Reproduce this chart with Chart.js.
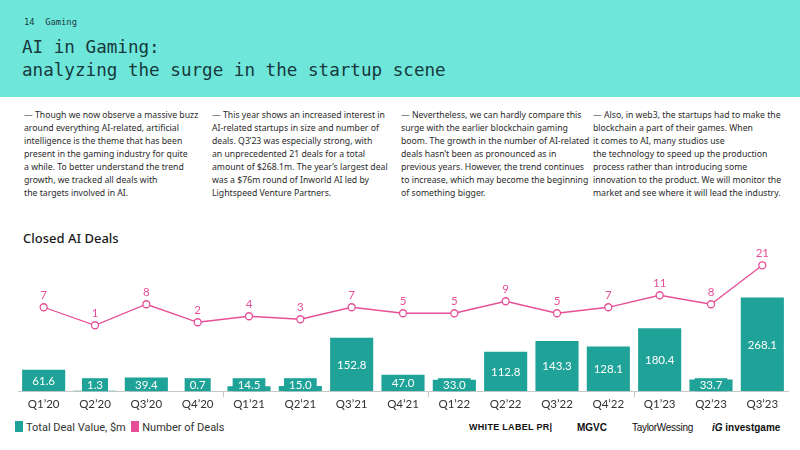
<!DOCTYPE html>
<html>
<head>
<meta charset="utf-8">
<script src="https://cdn.jsdelivr.net/npm/chart.js@4"></script>
<style>
  body { margin: 0; width: 800px; height: 450px; background: #fff; position: relative; overflow: hidden; font-family: "Noto Sans", sans-serif; }
  .header { position: absolute; left: 0; top: 0; width: 800px; height: 97px; background: #6ee6da; }
  .page { position: absolute; left: 24px; top: 17px; font: 8.8px "DejaVu Sans Mono", monospace; color: #1b3a3c; }
  .title { position: absolute; left: 22px; top: 36px; font: 17.6px/23px "DejaVu Sans Mono", monospace; color: #17393b; }
  .col { position: absolute; top: 109px; width: 185px; font: 8.7px/12.95px "Noto Sans", sans-serif; color: #2b2b2b; white-space: nowrap; }
  .chart-title { position: absolute; left: 23px; top: 229px; font: 500 13px "Noto Sans", sans-serif; color: #1a1a1a; }
  .chart-wrap { position: absolute; left: 0; top: 245px; width: 800px; height: 175px; }
  .legend { position: absolute; left: 15px; top: 421px; font: 11px "Liberation Sans Narrow", "Roboto", sans-serif; color: #333; }
  .legend span.box { display: inline-block; width: 8px; height: 11px; vertical-align: -1px; margin-right: 3px; }
  .logos { position: absolute; top: 422px; font-family: "Liberation Sans", sans-serif; color: #111; }
</style>
</head>
<body>
<div class="header"></div>
<div class="page">14&nbsp;&nbsp;Gaming</div>
<div class="title">AI in Gaming:<br>analyzing the surge in the startup scene</div>

<div class="col" style="left:24px">— Though we now observe a massive buzz<br>around everything AI-related, artificial<br>intelligence is the theme that has been<br>present in the gaming industry for quite<br>a while. To better understand the trend<br>growth, we tracked all deals with<br>the targets involved in AI.</div>
<div class="col" style="left:212px">— This year shows an increased interest in<br>AI-related startups in size and number of<br>deals. Q3’23 was especially strong, with<br>an unprecedented 21 deals for a total<br>amount of $268.1m. The year’s largest deal<br>was a $76m round of Inworld AI led by<br>Lightspeed Venture Partners.</div>
<div class="col" style="left:401px">— Nevertheless, we can hardly compare this<br>surge with the earlier blockchain gaming<br>boom. The growth in the number of AI-related<br>deals hasn’t been as pronounced as in<br>previous years. However, the trend continues<br>to increase, which may become the beginning<br>of something bigger.</div>
<div class="col" style="left:593px">— Also, in web3, the startups had to make the<br>blockchain a part of their games. When<br>it comes to AI, many studios use<br>the technology to speed up the production<br>process rather than introducing some<br>innovation to the product. We will monitor the<br>market and see where it will lead the industry.</div>

<div class="chart-title">Closed AI Deals</div>
<div class="chart-wrap"><canvas id="dealsChart"></canvas></div>

<div class="legend"><span class="box" style="background:#1fa398"></span>Total Deal Value, $m&nbsp;&nbsp;<span class="box" style="background:#e64f98"></span>Number of Deals</div>
<div class="logos" style="left:469px; font-size:9px; font-weight:bold; letter-spacing:0.3px;">WHITE LABEL PR|</div>
<div class="logos" style="left:577px; font-size:10px; font-weight:bold;">MGVC</div>
<div class="logos" style="left:632px; font-size:10px; letter-spacing:-0.3px;">TaylorWessing</div>
<div class="logos" style="left:712px; font-size:10px; font-weight:bold;"><i>iG</i> investgame</div>

<script>
const quarters = ["Q1’20", "Q2’20", "Q3’20", "Q4’20", "Q1’21", "Q2’21", "Q3’21", "Q4’21",
                  "Q1’22", "Q2’22", "Q3’22", "Q4’22", "Q1’23", "Q2’23", "Q3’23"];
const dealValues = [61.6, 1.3, 39.4, 0.7, 14.5, 15.0, 152.8, 47.0, 33.0, 112.8, 143.3, 128.1, 180.4, 33.7, 268.1];
const dealCounts = [7, 1, 8, 2, 4, 3, 7, 5, 5, 9, 5, 7, 11, 8, 21];

const teal = '#1fa398';
const pink = '#e64f98';
const yearBreaks = [4, 8, 12];

// value labels: white text on bars (with a small box for short bars), pink above points
const valueLabels = {
    id: 'valueLabels',
    afterDatasetsDraw(chart) {
        const ctx = chart.ctx;
        ctx.save();
        ctx.textAlign = 'center';
        ctx.textBaseline = 'middle';
        ctx.font = '11.5px Lato, sans-serif';

        chart.getDatasetMeta(0).data.forEach((bar, i) => {
            const txt = dealValues[i].toFixed(1);
            const h = bar.base - bar.y;
            let ty = (bar.y + bar.base) / 2;
            if (h < 16) {
                const w = ctx.measureText(txt).width + 10;
                ctx.fillStyle = teal;
                ctx.fillRect(bar.x - w / 2, bar.base - 13, w, 13);
                ty = bar.base - 6.5;
            }
            ctx.fillStyle = '#fff';
            ctx.fillText(txt, bar.x, ty + 0.5);
        });

        ctx.fillStyle = pink;
        ctx.font = '11.5px Lato, sans-serif';
        chart.getDatasetMeta(1).data.forEach((pt, i) => {
            ctx.fillText(String(dealCounts[i]), pt.x, pt.y - 12);
        });
        ctx.restore();
    }
};

new Chart(document.getElementById('dealsChart'), {
    data: {
        labels: quarters,
        datasets: [{
            type: 'bar',
            label: 'Total Deal Value, $m',
            data: dealValues,
            backgroundColor: teal,
            yAxisID: 'y',
            categoryPercentage: 1,
            barPercentage: 0.84,
            order: 1
        }, {
            type: 'line',
            label: 'Number of Deals',
            data: dealCounts,
            borderColor: pink,
            borderWidth: 1.3,
            pointRadius: 3.5,
            pointBorderWidth: 1.3,
            pointBackgroundColor: '#fff',
            pointBorderColor: pink,
            yAxisID: 'y1',
            tension: 0,
            order: 0
        }]
    },
    options: {
        responsive: true,
        maintainAspectRatio: false,
        animation: false,
        layout: { padding: { top: 5, left: 18, right: 12, bottom: 9 } },
        plugins: {
            legend: { display: false },
            tooltip: { enabled: false }
        },
        scales: {
            x: {
                offset: true,
                border: { display: true, color: '#c8c8c8', width: 1 },
                grid: {
                    offset: true,
                    drawOnChartArea: false,
                    tickLength: 6,
                    color: (c) => yearBreaks.includes(c.index) ? '#c8c8c8' : 'rgba(0,0,0,0)'
                },
                ticks: { color: '#333', font: { size: 11.5, family: 'Lato, sans-serif' }, padding: 0 }
            },
            y: { display: false, min: 0, max: 403 },
            y1: { display: false, min: -21, max: 26 }
        }
    },
    plugins: [valueLabels]
});
</script>
</body>
</html>
